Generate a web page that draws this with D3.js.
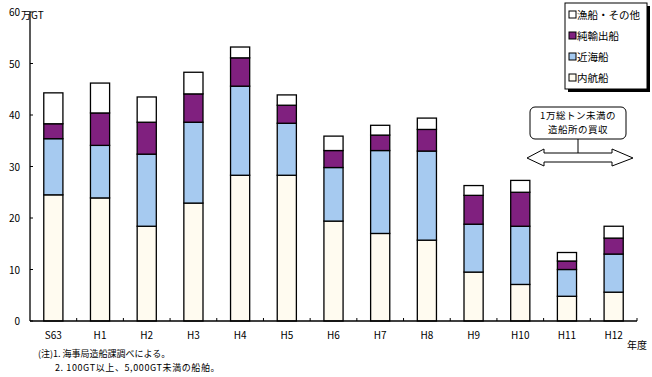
<!DOCTYPE html>
<html>
<head>
<meta charset="utf-8">
<script src="https://cdn.jsdelivr.net/npm/d3@7"></script>
<style>
  body { margin: 0; background: #fff; }
  svg { display: block; }
  text { font-family: "Noto Sans CJK JP", "Noto Sans", sans-serif; fill: #000; }
</style>
</head>
<body>
<div id="chart"></div>
<script>
// 年度
const years = ['S63', 'H1', 'H2', 'H3', 'H4', 'H5', 'H6', 'H7', 'H8', 'H9', 'H10', 'H11', 'H12'];

// 万GT (stack order bottom -> top)
const naikou = [24.5, 23.9, 18.4, 22.9, 28.3, 28.3, 19.4, 17.0, 15.7, 9.5, 7.1, 4.8, 5.6];
const kinkai = [10.9, 10.2, 14.0, 15.7, 17.3, 10.1, 10.4, 16.1, 17.3, 9.3, 11.3, 5.2, 7.4];
const junyushutsu = [2.9, 6.3, 6.2, 5.5, 5.5, 3.5, 3.3, 3.0, 4.2, 5.6, 6.6, 1.65, 3.1];
const gyosen = [6.0, 5.8, 4.9, 4.2, 2.1, 2.0, 2.8, 1.9, 2.2, 1.9, 2.3, 1.65, 2.3];

const seriesNames = ['内航船', '近海船', '純輸出船', '漁船・その他'];
const seriesColors = ['#fffbf0', '#a6caf0', '#80207f', '#ffffff'];
const yTicks = [0, 10, 20, 30, 40, 50, 60];

const notes = ['(注)1. 海事局造船課調べによる。', '2. 100GT以上、5,000GT未満の船舶。'];
const annotationLines = ['1万総トン未満の', '造船所の買収'];

const w = 652, h = 377;

const svg = d3.select('#chart')
  .append('svg')
  .attr('width', w)
  .attr('height', h);

const x = d3.scaleBand()
  .domain(years)
  .range([30, 637])
  .paddingInner(0.59)
  .paddingOuter(0.295);

const y = d3.scaleLinear()
  .domain([0, 60])
  .range([321, 12]);

// stack data
const rows = years.map((yr, i) => ({
  year: yr,
  '内航船': naikou[i],
  '近海船': kinkai[i],
  '純輸出船': junyushutsu[i],
  '漁船・その他': gyosen[i],
}));
const stacked = d3.stack().keys(seriesNames)(rows);

const color = d3.scaleOrdinal().domain(seriesNames).range(seriesColors);

// bars
svg.append('g')
  .selectAll('g.layer')
  .data(stacked)
  .enter()
  .append('g')
  .attr('class', 'layer')
  .attr('fill', (d) => color(d.key))
  .selectAll('rect')
  .data((d) => d)
  .enter()
  .append('rect')
  .attr('x', (d) => x(d.data.year))
  .attr('width', x.bandwidth())
  .attr('y', (d) => y(d[1]))
  .attr('height', (d) => y(d[0]) - y(d[1]))
  .attr('stroke', '#000')
  .attr('stroke-width', 1.3);

// y axis
const yAxis = svg.append('g');
yAxis.append('line')
  .attr('x1', 30).attr('x2', 30)
  .attr('y1', y(60)).attr('y2', y(0))
  .attr('stroke', '#000').attr('stroke-width', 1.3);
yAxis.selectAll('line.tick')
  .data(yTicks)
  .enter()
  .append('line')
  .attr('class', 'tick')
  .attr('x1', 30).attr('x2', 33)
  .attr('y1', (d) => y(d)).attr('y2', (d) => y(d))
  .attr('stroke', '#000');
yAxis.selectAll('text')
  .data(yTicks)
  .enter()
  .append('text')
  .attr('x', 20)
  .attr('y', (d) => y(d) + 4)
  .attr('text-anchor', 'end')
  .attr('font-size', 10)
  .text((d) => d);

svg.append('text')
  .attr('x', 21)
  .attr('y', 19)
  .attr('font-size', 10)
  .text('万GT');

// x axis
const xAxis = svg.append('g');
xAxis.append('line')
  .attr('x1', 30).attr('x2', 637)
  .attr('y1', y(0)).attr('y2', y(0))
  .attr('stroke', '#000').attr('stroke-width', 1.3);
xAxis.selectAll('line.tick')
  .data(years)
  .enter()
  .append('line')
  .attr('class', 'tick')
  .attr('x1', (d) => x(d) + x.bandwidth() / 2 + x.step() / 2)
  .attr('x2', (d) => x(d) + x.bandwidth() / 2 + x.step() / 2)
  .attr('y1', y(0) - 3).attr('y2', y(0))
  .attr('stroke', '#000');
xAxis.selectAll('text')
  .data(years)
  .enter()
  .append('text')
  .attr('x', (d) => x(d) + x.bandwidth() / 2)
  .attr('y', 339)
  .attr('text-anchor', 'middle')
  .attr('font-size', 10)
  .text((d) => d);

svg.append('text')
  .attr('x', 627)
  .attr('y', 349)
  .attr('font-size', 10)
  .text('年度');

// notes
svg.append('text')
  .attr('x', 38)
  .attr('y', 357)
  .attr('font-size', 9)
  .text(notes[0]);
svg.append('text')
  .attr('x', 55)
  .attr('y', 371)
  .attr('font-size', 9)
  .attr('letter-spacing', 0.6)
  .text(notes[1]);

// legend
const legend = svg.append('g').attr('transform', 'translate(565,3)');
legend.append('rect')
  .attr('x', 3).attr('y', 3)
  .attr('width', 82).attr('height', 86)
  .attr('fill', '#000');
legend.append('rect')
  .attr('x', 0).attr('y', 0)
  .attr('width', 82).attr('height', 86)
  .attr('fill', '#fff')
  .attr('stroke', '#000')
  .attr('stroke-width', 1);

const legendItems = seriesNames.slice().reverse();
const li = legend.selectAll('g.item')
  .data(legendItems)
  .enter()
  .append('g')
  .attr('class', 'item')
  .attr('transform', (d, i) => `translate(4,${12 + i * 21})`);
li.append('rect')
  .attr('x', 0).attr('y', -4)
  .attr('width', 7).attr('height', 7)
  .attr('fill', (d) => color(d))
  .attr('stroke', '#000')
  .attr('stroke-width', 1);
li.append('text')
  .attr('x', 8)
  .attr('y', 4)
  .attr('font-size', 10.5)
  .text((d) => d);

// annotation
const ann = svg.append('g');
ann.append('rect')
  .attr('x', 530).attr('y', 107)
  .attr('width', 96).attr('height', 32)
  .attr('rx', 5)
  .attr('fill', '#fff')
  .attr('stroke', '#000');
ann.selectAll('text')
  .data(annotationLines)
  .enter()
  .append('text')
  .attr('x', 578)
  .attr('y', (d, i) => 119 + i * 14)
  .attr('text-anchor', 'middle')
  .attr('font-size', 9.5)
  .attr('letter-spacing', 0.5)
  .text((d) => d);
ann.append('line')
  .attr('x1', 578).attr('x2', 578)
  .attr('y1', 139).attr('y2', 153)
  .attr('stroke', '#000');

const arrowPts = [
  [527, 158], [544, 149], [544, 153], [612, 153], [612, 149],
  [633, 158], [612, 166], [612, 162], [544, 162], [544, 166],
];
ann.append('path')
  .attr('d', d3.line()(arrowPts) + 'Z')
  .attr('fill', '#fff')
  .attr('stroke', '#000');
</script>
</body>
</html>
